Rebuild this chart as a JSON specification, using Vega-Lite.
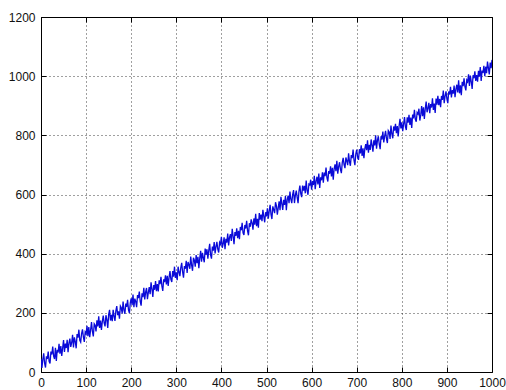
{
  "$schema": "https://vega.github.io/schema/vega-lite/v6.json",
  "width": 451,
  "height": 355,
  "autosize": {"type": "none"},
  "padding": {"left": 41, "top": 17, "right": 14, "bottom": 18},
  "background": "white",
  "config": {
    "view": {"stroke": "black", "strokeWidth": 1},
    "axis": {
      "labelFont": "Liberation Sans",
      "labelFontSize": 12,
      "labelColor": "#111",
      "format": "d",
      "domain": false,
      "tickColor": "black",
      "tickSize": -5,
      "gridColor": "#000",
      "gridDash": [1, 3],
      "gridWidth": 1,
      "gridOpacity": 0.75,
      "title": null
    }
  },
  "layer": [
    {
      "data": {"values": [
{"x":0,"y":45},{"x":2,"y":14},{"x":4,"y":42},{"x":6,"y":63},{"x":8,"y":30},{"x":10,"y":15},{"x":12,"y":53},{"x":14,"y":44},{"x":16,"y":69},{"x":18,"y":36},{"x":20,"y":29},{"x":22,"y":69},{"x":24,"y":59},{"x":26,"y":86},{"x":28,"y":54},{"x":30,"y":44},{"x":32,"y":82},{"x":34,"y":37},{"x":36,"y":75},{"x":38,"y":66},{"x":40,"y":95},{"x":42,"y":62},{"x":44,"y":88},{"x":46,"y":54},{"x":48,"y":81},{"x":50,"y":108},{"x":52,"y":68},{"x":54,"y":96},{"x":56,"y":81},{"x":58,"y":109},{"x":60,"y":67},{"x":62,"y":98},{"x":64,"y":113},{"x":66,"y":85},{"x":68,"y":99},{"x":70,"y":126},{"x":72,"y":83},{"x":74,"y":117},{"x":76,"y":103},{"x":78,"y":80},{"x":80,"y":128},{"x":82,"y":116},{"x":84,"y":143},{"x":86,"y":107},{"x":88,"y":101},{"x":90,"y":130},{"x":92,"y":144},{"x":94,"y":118},{"x":96,"y":102},{"x":98,"y":135},
{"x":100,"y":129},{"x":102,"y":156},{"x":104,"y":121},{"x":106,"y":152},{"x":108,"y":118},{"x":110,"y":142},{"x":112,"y":169},{"x":114,"y":137},{"x":116,"y":120},{"x":118,"y":163},{"x":120,"y":158},{"x":122,"y":137},{"x":124,"y":175},{"x":126,"y":154},{"x":128,"y":188},{"x":130,"y":149},{"x":132,"y":174},{"x":134,"y":142},{"x":136,"y":171},{"x":138,"y":191},{"x":140,"y":166},{"x":142,"y":154},{"x":144,"y":192},{"x":146,"y":177},{"x":148,"y":149},{"x":150,"y":194},{"x":152,"y":210},{"x":154,"y":174},{"x":156,"y":193},{"x":158,"y":172},{"x":160,"y":210},{"x":162,"y":189},{"x":164,"y":173},{"x":166,"y":207},{"x":168,"y":223},{"x":170,"y":192},{"x":172,"y":205},{"x":174,"y":180},{"x":176,"y":223},{"x":178,"y":217},{"x":180,"y":198},{"x":182,"y":238},{"x":184,"y":209},{"x":186,"y":197},{"x":188,"y":231},{"x":190,"y":220},{"x":192,"y":244},{"x":194,"y":210},{"x":196,"y":199},{"x":198,"y":234},
{"x":200,"y":249},{"x":202,"y":226},{"x":204,"y":262},{"x":206,"y":219},{"x":208,"y":248},{"x":210,"y":239},{"x":212,"y":219},{"x":214,"y":260},{"x":216,"y":250},{"x":218,"y":272},{"x":220,"y":239},{"x":222,"y":224},{"x":224,"y":266},{"x":226,"y":253},{"x":228,"y":285},{"x":230,"y":245},{"x":232,"y":270},{"x":234,"y":284},{"x":236,"y":246},{"x":238,"y":269},{"x":240,"y":287},{"x":242,"y":263},{"x":244,"y":303},{"x":246,"y":281},{"x":248,"y":254},{"x":250,"y":294},{"x":252,"y":278},{"x":254,"y":307},{"x":256,"y":273},{"x":258,"y":297},{"x":260,"y":272},{"x":262,"y":310},{"x":264,"y":297},{"x":266,"y":322},{"x":268,"y":291},{"x":270,"y":274},{"x":272,"y":313},{"x":274,"y":304},{"x":276,"y":327},{"x":278,"y":296},{"x":280,"y":325},{"x":282,"y":291},{"x":284,"y":320},{"x":286,"y":341},{"x":288,"y":313},{"x":290,"y":304},{"x":292,"y":341},{"x":294,"y":322},{"x":296,"y":356},{"x":298,"y":318},
{"x":300,"y":337},{"x":302,"y":310},{"x":304,"y":356},{"x":306,"y":338},{"x":308,"y":324},{"x":310,"y":353},{"x":312,"y":369},{"x":314,"y":338},{"x":316,"y":319},{"x":318,"y":358},{"x":320,"y":349},{"x":322,"y":376},{"x":324,"y":335},{"x":326,"y":372},{"x":328,"y":363},{"x":330,"y":349},{"x":332,"y":390},{"x":334,"y":361},{"x":336,"y":342},{"x":338,"y":386},{"x":340,"y":378},{"x":342,"y":356},{"x":344,"y":395},{"x":346,"y":368},{"x":348,"y":389},{"x":350,"y":351},{"x":352,"y":385},{"x":354,"y":410},{"x":356,"y":373},{"x":358,"y":403},{"x":360,"y":386},{"x":362,"y":371},{"x":364,"y":417},{"x":366,"y":397},{"x":368,"y":415},{"x":370,"y":383},{"x":372,"y":411},{"x":374,"y":433},{"x":376,"y":396},{"x":378,"y":383},{"x":380,"y":424},{"x":382,"y":410},{"x":384,"y":439},{"x":386,"y":401},{"x":388,"y":424},{"x":390,"y":440},{"x":392,"y":415},{"x":394,"y":404},{"x":396,"y":438},{"x":398,"y":432},
{"x":400,"y":457},{"x":402,"y":420},{"x":404,"y":434},{"x":406,"y":455},{"x":408,"y":415},{"x":410,"y":450},{"x":412,"y":437},{"x":414,"y":468},{"x":416,"y":428},{"x":418,"y":455},{"x":420,"y":466},{"x":422,"y":443},{"x":424,"y":484},{"x":426,"y":459},{"x":428,"y":432},{"x":430,"y":473},{"x":432,"y":460},{"x":434,"y":486},{"x":436,"y":452},{"x":438,"y":477},{"x":440,"y":449},{"x":442,"y":490},{"x":444,"y":479},{"x":446,"y":504},{"x":448,"y":470},{"x":450,"y":463},{"x":452,"y":497},{"x":454,"y":485},{"x":456,"y":511},{"x":458,"y":477},{"x":460,"y":462},{"x":462,"y":503},{"x":464,"y":491},{"x":466,"y":516},{"x":468,"y":504},{"x":470,"y":481},{"x":472,"y":519},{"x":474,"y":498},{"x":476,"y":535},{"x":478,"y":493},{"x":480,"y":518},{"x":482,"y":488},{"x":484,"y":537},{"x":486,"y":515},{"x":488,"y":532},{"x":490,"y":510},{"x":492,"y":548},{"x":494,"y":526},{"x":496,"y":506},{"x":498,"y":540},
{"x":500,"y":526},{"x":502,"y":553},{"x":504,"y":518},{"x":506,"y":544},{"x":508,"y":565},{"x":510,"y":533},{"x":512,"y":517},{"x":514,"y":560},{"x":516,"y":549},{"x":518,"y":537},{"x":520,"y":574},{"x":522,"y":562},{"x":524,"y":532},{"x":526,"y":555},{"x":528,"y":577},{"x":530,"y":547},{"x":532,"y":592},{"x":534,"y":569},{"x":536,"y":548},{"x":538,"y":582},{"x":540,"y":565},{"x":542,"y":595},{"x":544,"y":547},{"x":546,"y":583},{"x":548,"y":596},{"x":550,"y":571},{"x":552,"y":610},{"x":554,"y":584},{"x":556,"y":571},{"x":558,"y":600},{"x":560,"y":615},{"x":562,"y":571},{"x":564,"y":598},{"x":566,"y":613},{"x":568,"y":590},{"x":570,"y":571},{"x":572,"y":611},{"x":574,"y":630},{"x":576,"y":603},{"x":578,"y":591},{"x":580,"y":630},{"x":582,"y":613},{"x":584,"y":629},{"x":586,"y":604},{"x":588,"y":647},{"x":590,"y":614},{"x":592,"y":599},{"x":594,"y":635},{"x":596,"y":632},{"x":598,"y":650},
{"x":600,"y":616},{"x":602,"y":645},{"x":604,"y":632},{"x":606,"y":663},{"x":608,"y":618},{"x":610,"y":645},{"x":612,"y":660},{"x":614,"y":634},{"x":616,"y":671},{"x":618,"y":622},{"x":620,"y":658},{"x":622,"y":648},{"x":624,"y":675},{"x":626,"y":640},{"x":628,"y":674},{"x":630,"y":662},{"x":632,"y":691},{"x":634,"y":657},{"x":636,"y":644},{"x":638,"y":679},{"x":640,"y":670},{"x":642,"y":695},{"x":644,"y":661},{"x":646,"y":690},{"x":648,"y":650},{"x":650,"y":687},{"x":652,"y":702},{"x":654,"y":679},{"x":656,"y":714},{"x":658,"y":670},{"x":660,"y":694},{"x":662,"y":709},{"x":664,"y":685},{"x":666,"y":672},{"x":668,"y":708},{"x":670,"y":724},{"x":672,"y":701},{"x":674,"y":689},{"x":676,"y":725},{"x":678,"y":714},{"x":680,"y":699},{"x":682,"y":739},{"x":684,"y":711},{"x":686,"y":697},{"x":688,"y":733},{"x":690,"y":723},{"x":692,"y":752},{"x":694,"y":716},{"x":696,"y":699},{"x":698,"y":737},
{"x":700,"y":752},{"x":702,"y":726},{"x":704,"y":717},{"x":706,"y":753},{"x":708,"y":739},{"x":710,"y":766},{"x":712,"y":730},{"x":714,"y":756},{"x":716,"y":723},{"x":718,"y":754},{"x":720,"y":770},{"x":722,"y":750},{"x":724,"y":783},{"x":726,"y":741},{"x":728,"y":768},{"x":730,"y":751},{"x":732,"y":786},{"x":734,"y":767},{"x":736,"y":745},{"x":738,"y":783},{"x":740,"y":766},{"x":742,"y":800},{"x":744,"y":755},{"x":746,"y":784},{"x":748,"y":797},{"x":750,"y":770},{"x":752,"y":753},{"x":754,"y":797},{"x":756,"y":786},{"x":758,"y":813},{"x":760,"y":776},{"x":762,"y":797},{"x":764,"y":815},{"x":766,"y":789},{"x":768,"y":774},{"x":770,"y":816},{"x":772,"y":811},{"x":774,"y":788},{"x":776,"y":833},{"x":778,"y":805},{"x":780,"y":790},{"x":782,"y":830},{"x":784,"y":816},{"x":786,"y":839},{"x":788,"y":807},{"x":790,"y":831},{"x":792,"y":796},{"x":794,"y":831},{"x":796,"y":856},{"x":798,"y":823},
{"x":800,"y":844},{"x":802,"y":814},{"x":804,"y":838},{"x":806,"y":862},{"x":808,"y":829},{"x":810,"y":818},{"x":812,"y":861},{"x":814,"y":843},{"x":816,"y":869},{"x":818,"y":835},{"x":820,"y":860},{"x":822,"y":825},{"x":824,"y":870},{"x":826,"y":857},{"x":828,"y":886},{"x":830,"y":854},{"x":832,"y":846},{"x":834,"y":877},{"x":836,"y":872},{"x":838,"y":890},{"x":840,"y":850},{"x":842,"y":869},{"x":844,"y":899},{"x":846,"y":865},{"x":848,"y":895},{"x":850,"y":855},{"x":852,"y":890},{"x":854,"y":914},{"x":856,"y":878},{"x":858,"y":891},{"x":860,"y":910},{"x":862,"y":875},{"x":864,"y":906},{"x":866,"y":894},{"x":868,"y":925},{"x":870,"y":886},{"x":872,"y":907},{"x":874,"y":876},{"x":876,"y":924},{"x":878,"y":904},{"x":880,"y":934},{"x":882,"y":902},{"x":884,"y":923},{"x":886,"y":895},{"x":888,"y":933},{"x":890,"y":920},{"x":892,"y":951},{"x":894,"y":909},{"x":896,"y":933},{"x":898,"y":949},
{"x":900,"y":923},{"x":902,"y":909},{"x":904,"y":948},{"x":906,"y":938},{"x":908,"y":964},{"x":910,"y":928},{"x":912,"y":953},{"x":914,"y":941},{"x":916,"y":968},{"x":918,"y":929},{"x":920,"y":956},{"x":922,"y":971},{"x":924,"y":945},{"x":926,"y":986},{"x":928,"y":942},{"x":930,"y":969},{"x":932,"y":936},{"x":934,"y":981},{"x":936,"y":966},{"x":938,"y":993},{"x":940,"y":965},{"x":942,"y":952},{"x":944,"y":987},{"x":946,"y":981},{"x":948,"y":1006},{"x":950,"y":967},{"x":952,"y":1002},{"x":954,"y":982},{"x":956,"y":957},{"x":958,"y":1003},{"x":960,"y":993},{"x":962,"y":1016},{"x":964,"y":984},{"x":966,"y":1004},{"x":968,"y":981},{"x":970,"y":1018},{"x":972,"y":998},{"x":974,"y":1031},{"x":976,"y":984},{"x":978,"y":1019},{"x":980,"y":1011},{"x":982,"y":1035},{"x":984,"y":1000},{"x":986,"y":1032},{"x":988,"y":1010},{"x":990,"y":1049},{"x":992,"y":1028},{"x":994,"y":1006},{"x":996,"y":1046},{"x":998,"y":1027},
{"x":1000,"y":1055}
      ]},
      "mark": {"type": "line", "color": "#0a0ad8", "strokeWidth": 1.3, "clip": true},
      "encoding": {
        "x": {"field": "x", "type": "quantitative", "scale": {"domain": [0, 1000], "nice": false, "zero": false},
              "axis": {"values": [0,100,200,300,400,500,600,700,800,900,1000], "grid": true, "orient": "bottom", "labelPadding": 10, "labelFlush": false}},
        "y": {"field": "y", "type": "quantitative", "scale": {"domain": [0, 1200], "nice": false, "zero": false},
              "axis": {"values": [0,200,400,600,800,1000,1200], "grid": true, "orient": "left", "labelPadding": 11, "labelFlush": false}}
      }
    },
    {
      "data": {"values": [{"x": 0, "y": 0}, {"x": 1000, "y": 1200}]},
      "mark": {"type": "point", "opacity": 0},
      "encoding": {
        "x": {"field": "x", "type": "quantitative",
              "axis": {"values": [0,100,200,300,400,500,600,700,800,900,1000], "grid": false, "orient": "top", "labels": false}},
        "y": {"field": "y", "type": "quantitative",
              "axis": {"values": [0,200,400,600,800,1000,1200], "grid": false, "orient": "right", "labels": false}}
      }
    }
  ],
  "resolve": {"axis": {"x": "independent", "y": "independent"}}
}
